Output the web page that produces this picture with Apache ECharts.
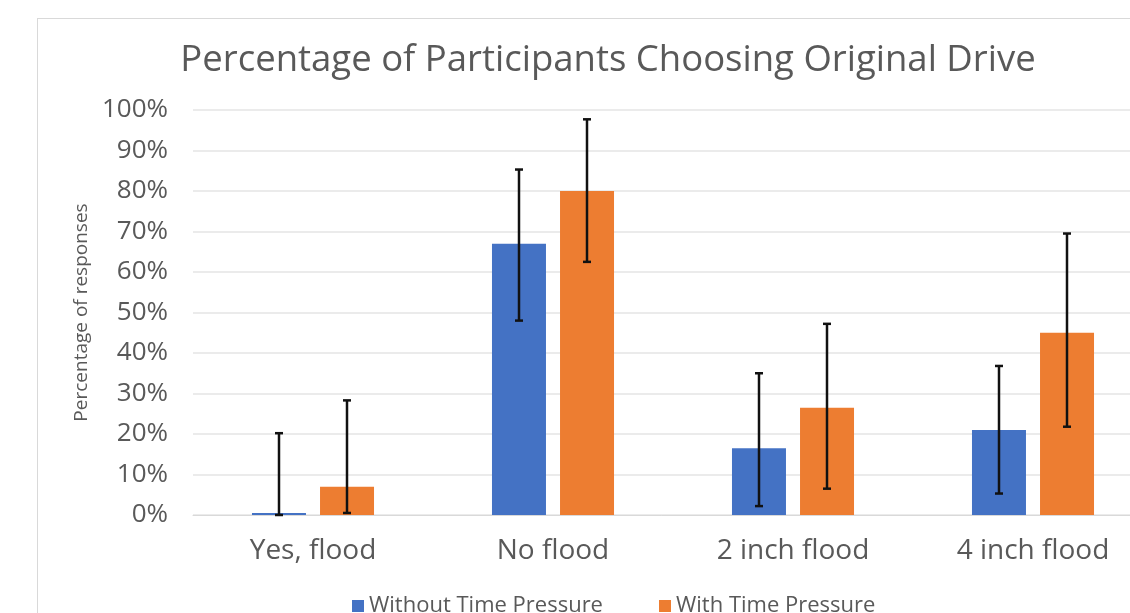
<!DOCTYPE html>
<html>
<head>
<meta charset="utf-8">
<script src="https://cdn.jsdelivr.net/npm/echarts@6/dist/echarts.min.js"></script>
<style>
    html, body { margin: 0; padding: 0; background: #fff; }
    .frame {
        position: absolute;
        left: 37px;
        top: 18px;
        width: 1200px;
        height: 700px;
        border: 1px solid #d9d9d9;
        box-sizing: border-box;
    }
    #chart { position: absolute; left: 0; top: 0; width: 1130px; height: 613px; }
</style>
</head>
<body>
<div class="frame"></div>
<div id="chart"></div>
<script>
// 类别和数据
const categories = ['Yes, flood', 'No flood', '2 inch flood', '4 inch flood']
const withoutPressure = [0.5, 67, 16.5, 21]
const withPressure = [7, 80, 26.5, 45]
// 误差线 [下, 上]
const withoutErr = [[0, 20.2], [48, 85.3], [2.2, 35], [5.3, 36.8]]
const withErr = [[0.5, 28.3], [62.5, 97.7], [6.5, 47.2], [21.8, 69.5]]

const font = '"Open Sans", "Noto Sans", sans-serif'
const barW = 54
const offset = 34 // 每根柱中心离类别中心的距离

function errorSeries(name, errs, dx) {
    return {
        type: 'custom',
        name: name + ' err',
        z: 10,
        silent: true,
        data: errs.map((e, i) => [i, e[0], e[1]]),
        renderItem: function (params, api) {
            const lo = api.coord([api.value(0), api.value(1)])
            const hi = api.coord([api.value(0), api.value(2)])
            const x = lo[0] + dx
            const cap = 4
            const style = { stroke: '#111', lineWidth: 2.5 }
            return {
                type: 'group',
                children: [
                    { type: 'line', shape: { x1: x, y1: lo[1], x2: x, y2: hi[1] }, style: style },
                    { type: 'line', shape: { x1: x - cap, y1: lo[1], x2: x + cap, y2: lo[1] }, style: style },
                    { type: 'line', shape: { x1: x - cap, y1: hi[1], x2: x + cap, y2: hi[1] }, style: style }
                ]
            }
        }
    }
}

const myChart = echarts.init(document.getElementById('chart'))
const options = {
    animation: false,
    title: {
        text: 'Percentage of Participants Choosing Original Drive',
        left: 603,
        textAlign: 'center',
        top: 37,
        textStyle: { color: '#595959', fontFamily: font, fontSize: 36.5, fontWeight: 'normal' }
    },
    grid: { left: 193, width: 960, top: 110, height: 405, containLabel: false, outerBoundsMode: 'none' },
    legend: {
        top: 590,
        left: 347,
        itemWidth: 12,
        itemHeight: 12,
        itemGap: 56,
        icon: 'rect',
        data: ['Without Time Pressure', 'With Time Pressure'],
        textStyle: { color: '#595959', fontFamily: font, fontSize: 22 }
    },
    xAxis: {
        type: 'category',
        data: categories,
        axisLine: { lineStyle: { color: '#d9d9d9' } },
        axisTick: { show: false },
        axisLabel: { color: '#595959', fontFamily: font, fontSize: 28, margin: 22 }
    },
    yAxis: {
        type: 'value',
        min: 0,
        max: 100,
        interval: 10,
        name: 'Percentage of responses',
        nameLocation: 'middle',
        nameGap: 101,
        nameTextStyle: { color: '#595959', fontFamily: font, fontSize: 19 },
        axisLine: { show: false },
        axisTick: { show: false },
        axisLabel: { color: '#595959', fontFamily: font, fontSize: 26, margin: 25, formatter: '{value}%' },
        splitLine: { lineStyle: { color: '#e4e4e4', width: 1.5 } }
    },
    series: [
        {
            name: 'Without Time Pressure',
            type: 'bar',
            data: withoutPressure,
            barWidth: barW,
            barGap: '26%',
            itemStyle: { color: '#4472c4' }
        },
        {
            name: 'With Time Pressure',
            type: 'bar',
            data: withPressure,
            barWidth: barW,
            barGap: '26%',
            itemStyle: { color: '#ed7d31' }
        },
        errorSeries('Without Time Pressure', withoutErr, -offset),
        errorSeries('With Time Pressure', withErr, offset)
    ]
}
myChart.setOption(options)
</script>
</body>
</html>
